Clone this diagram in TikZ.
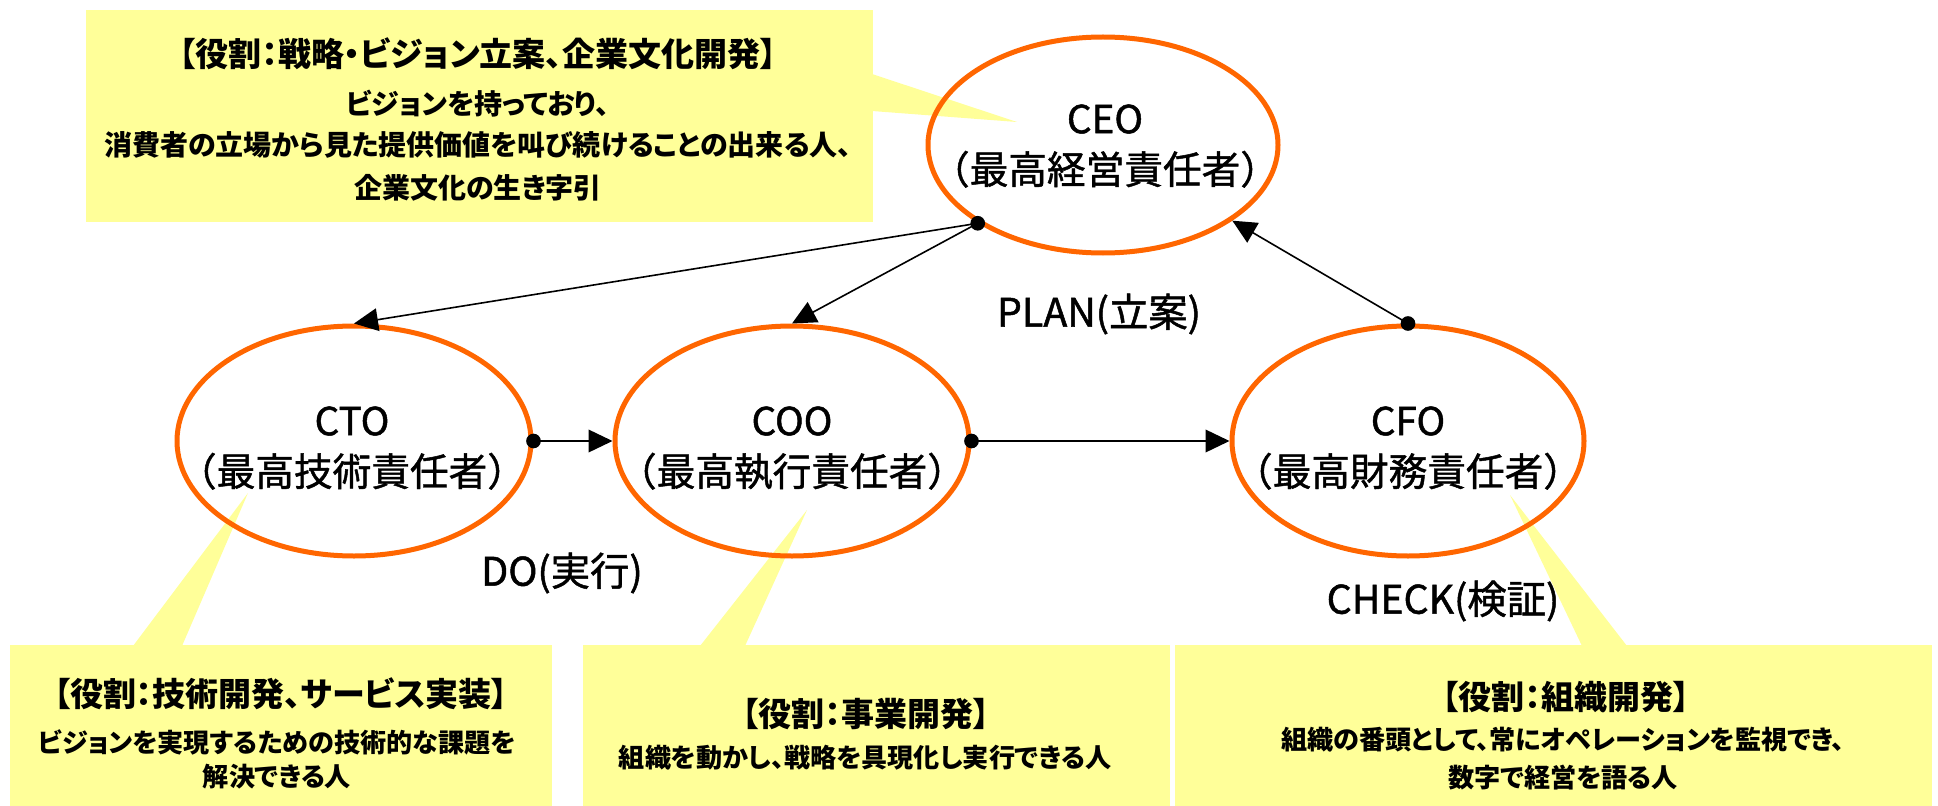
\documentclass[tikz,border=0pt]{standalone}
\usepackage{fontspec}
\setmainfont{Noto Sans CJK JP}
\newfontfamily\calfont[RawFeature=+palt]{Noto Sans CJK JP}
\newfontfamily\rolefont[FakeBold=1.2]{Noto Sans CJK JP}
\usetikzlibrary{shapes.geometric, arrows.meta}
\definecolor{roleorange}{HTML}{FF6600}
\definecolor{calloutyellow}{HTML}{FFFF99}
\tikzset{
  role/.style={ellipse, draw=roleorange, line width=3.75pt, inner sep=0pt},
  rolelabel/.style={align=center, font=\rolefont\fontsize{29pt}{38pt}\selectfont},
  flowlabel/.style={font=\rolefont\fontsize{29.5pt}{34pt}\selectfont},
  callbox/.style={fill=calloutyellow, draw=none, inner sep=0pt, anchor=north west},
  callhead/.style={font=\calfont\bfseries\fontsize{24.75pt}{28pt}\selectfont},
  callbody/.style={font=\calfont\bfseries\fontsize{19.6pt}{24pt}\selectfont},
  topbody/.style={font=\calfont\bfseries\fontsize{21pt}{24pt}\selectfont},
  link/.style={line width=1.2pt, -{Triangle[length=18pt,width=17pt]}},
  dotmark/.style={circle, fill=black, inner sep=0pt, minimum size=11pt}
}
\begin{document}
\begin{tikzpicture}[x=0.75pt, y=-0.75pt]
\useasboundingbox (0,0) rectangle (1938,806);
\fill[white] (0,0) rectangle (1938,806);

% callout boxes and tails
\node[callbox, minimum width=787*0.75pt, minimum height=212*0.75pt] (ceobox) at (86,10) {};
\fill[calloutyellow] (872,74) -- (1017,122) -- (872,111) -- cycle;

\node[callbox, minimum width=542*0.75pt, minimum height=161*0.75pt] (ctobox) at (10,645) {};
\fill[calloutyellow] (133,646) -- (248,493) -- (182,646) -- cycle;

\node[callbox, minimum width=587*0.75pt, minimum height=161*0.75pt] (coobox) at (583,645) {};
\fill[calloutyellow] (700,646) -- (807,510) -- (745,646) -- cycle;

\node[callbox, minimum width=757*0.75pt, minimum height=161*0.75pt] (cfobox) at (1175,645) {};
\fill[calloutyellow] (1582,646) -- (1510,495) -- (1627,646) -- cycle;

% callout texts
\node[callhead] (ceoh) at (478,54) {【役割：戦略・ビジョン立案、企業文化開発】};
\node[topbody] (ceob1) at (478,104) {ビジョンを持っており、};
\node[topbody] (ceob2) at (478,145) {消費者の立場から見た提供価値を叫び続けることの出来る人、};
\node[topbody] (ceob3) at (478,188) {企業文化の生き字引};

\node[callhead] (ctoh) at (281,694) {【役割：技術開発、サービス実装】};
\node[callbody] (ctob1) at (277,742) {ビジョンを実現するための技術的な課題を};
\node[callbody] (ctob2) at (277,777) {解決できる人};

\node[callhead] (cooh) at (866,714) {【役割：事業開発】};
\node[callbody] (coob1) at (865,758) {組織を動かし、戦略を具現化し実行できる人};

\node[callhead] (cfoh) at (1566,697) {【役割：組織開発】};
\node[callbody] (cfob1) at (1563,740) {組織の番頭として、常にオペレーションを監視でき、};
\node[callbody] (cfob2) at (1563,778) {数字で経営を語る人};

% role ellipses
\node[role, minimum width=350*0.75pt, minimum height=216*0.75pt] (CEO) at (1103,145) {};
\node[role, minimum width=354*0.75pt, minimum height=230*0.75pt] (CTO) at (354,441) {};
\node[role, minimum width=354*0.75pt, minimum height=230*0.75pt] (COO) at (792,441) {};
\node[role, minimum width=352*0.75pt, minimum height=230*0.75pt] (CFO) at (1408,441) {};

\node[rolelabel] (CEOt) at (1105,146) {CEO\\（最高経営責任者）};
\node[rolelabel] (CTOt) at (352,448) {CTO\\（最高技術責任者）};
\node[rolelabel] (COOt) at (792,448) {COO\\（最高執行責任者）};
\node[rolelabel] (CFOt) at (1408,448) {CFO\\（最高財務責任者）};

% flow labels
\node[flowlabel] (plan) at (1099,314) {PLAN(立案)};
\node[flowlabel] (do) at (562,573) {DO(実行)};
\node[flowlabel] (check) at (1443,601) {CHECK(検証)};

% connectors
\draw[link] (CEO.212) -- (CTO.north);
\draw[link] (CEO.212) -- (COO.north);
\draw[link] (CTO.east) -- (COO.west);
\draw[link] (COO.east) -- (CFO.west);
\draw[link] (CFO.north) -- (CEO);

\node[dotmark] (d1) at (CEO.212) {};
\node[dotmark] (d2) at (CTO.east) {};
\node[dotmark] (d3) at (COO.east) {};
\node[dotmark] (d4) at (CFO.north) {};
\end{tikzpicture}
\end{document}
